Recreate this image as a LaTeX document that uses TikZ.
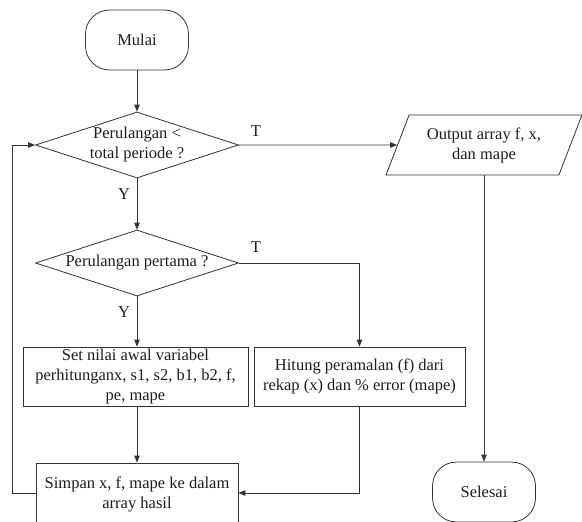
\documentclass[tikz,border=0pt]{standalone}
\usepackage{fontspec}
\setmainfont{Liberation Serif}
\usetikzlibrary{shapes.geometric,arrows.meta}
\definecolor{ln}{RGB}{50,50,50}
\definecolor{tx}{RGB}{30,30,30}
\begin{document}
\begin{tikzpicture}[x=1pt,y=-1pt,
  every node/.style={font=\fontsize{16.5}{20}\selectfont, text=tx, align=center, inner sep=0pt},
  term/.style={draw=ln, line width=0.8pt, rounded corners=24pt, minimum width=103pt, minimum height=60pt},
  dec/.style={draw=ln, line width=0.8pt, diamond, minimum width=203pt, minimum height=66pt},
  proc/.style={draw=ln, line width=0.8pt, rectangle},
  io/.style={draw=ln, line width=0.8pt, trapezium, trapezium stretches=true, trapezium left angle=63.43, trapezium right angle=116.57, minimum width=196pt, minimum height=60pt},
  conn/.style={draw=ln, line width=0.8pt},
  arr/.style={conn, -{Triangle[length=7pt,width=5.5pt]}},
  lbl/.style={font=\fontsize{16.5}{20}\selectfont}
]
\useasboundingbox (0,0) rectangle (582,522);
\clip (0,0) rectangle (582,522);
\fill[white] (0,0) rectangle (582,522);

\node[term] (mulai) at (137,40) {Mulai};
\node[dec] (d1) at (137,145) {};
\node (d1t) at (137,145) {Perulangan <\\total periode ?};
\node[dec] (d2) at (137,263) {};
\node (d2t) at (137,263) {Perulangan pertama ?};
\node[proc, minimum width=225pt, minimum height=59pt] (b1) at (135.5,376.5) {Set nilai awal variabel\\perhitunganx, s1, s2, b1, b2, f,\\pe, mape};
\node[proc, minimum width=211pt, minimum height=59pt] (b3) at (359.5,376.5) {Hitung peramalan (f) dari\\rekap (x) dan \% error (mape)};
\node[proc, minimum width=202pt, minimum height=62pt] (b2) at (137,494) {Simpan x, f, mape ke dalam\\array hasil};
\node[io] (out) at (484,145) {Output array f, x,\\dan mape};
\node[term] (sel) at (484,492) {Selesai};

\node[lbl] (t1) at (256,131) {T};
\node[lbl] (t2) at (256,247) {T};
\node[lbl] (y1) at (124,194) {Y};
\node[lbl] (y2) at (124,312) {Y};

\coordinate (lp) at (12,493);
\draw[arr] (mulai.south) -- (d1.north);
\draw[arr] (d1.south) -- (d2.north);
\draw[arr] (d2.south) -- (d2.south |- b1.north);
\draw[arr] (d2.south |- b1.south) -- (d2.south |- b2.north);
\draw[arr] (d2.east) -| (b3.north);
\draw[arr] (b3.south) |- (b3.south |- lp) -- (b2.east |- lp);
\draw[arr] (b2.west |- lp) -- (lp) |- (d1.west);
\draw[arr] (d1.east) -- (out);
\draw[arr] (out.south) -- (out.south |- sel.north);
\end{tikzpicture}
\end{document}
